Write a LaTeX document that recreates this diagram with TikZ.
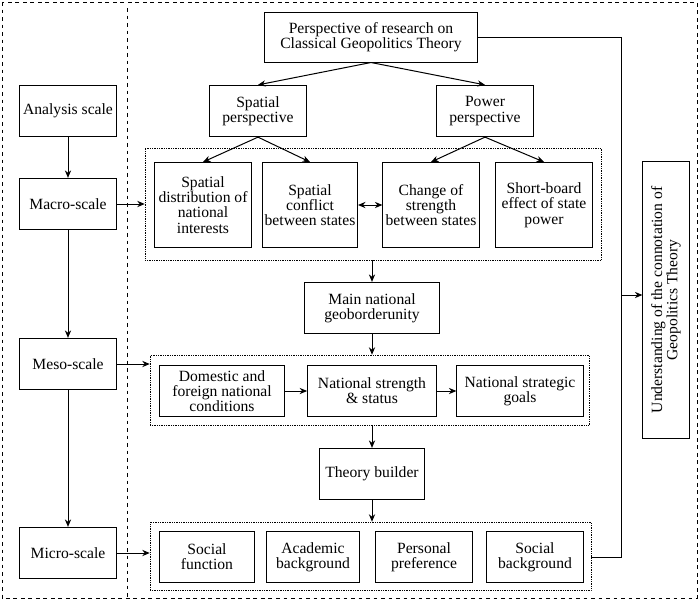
\documentclass[tikz,border=0pt]{standalone}
\usepackage{fontspec}
\setmainfont{Liberation Serif}
\usetikzlibrary{arrows.meta,fit}

\tikzset{
  box/.style={draw, thick, align=center, inner sep=0pt, font=\fontsize{12.5}{12.2}\selectfont},
  grp/.style={draw, densely dotted, inner sep=0pt},
  arr/.style={-{Stealth[length=6pt,width=5pt]}, thick}
}

\begin{document}
\begin{tikzpicture}[x=0.8pt, y=-0.8pt]
        \useasboundingbox (0,0) rectangle (700,601);
        \draw[dashed, thick] (2,2) rectangle (697,598);
        \draw[dashed, thick] (127,8) -- (127,598);

        % left column
        \node[box, minimum width=77pt, minimum height=41pt](as) at (68,111) {Analysis scale};
        \node[box, minimum width=77pt, minimum height=41pt](ma) at (68,204) {Macro-scale};
        \node[box, minimum width=77pt, minimum height=41pt](me) at (68,364) {Meso-scale};
        \node[box, minimum width=77pt, minimum height=41pt](mi) at (68,553) {Micro-scale};

        % top
        \node[box, minimum width=170pt, minimum height=40pt](per) at (371,37) {Perspective of research on\\Classical Geopolitics Theory};
        \node[box, minimum width=77pt, minimum height=41pt](sp) at (258,111) {Spatial\\perspective};
        \node[box, minimum width=77pt, minimum height=41pt](pp) at (485,111) {Power\\perspective};

        \node[box, minimum width=77pt, minimum height=68pt](s1) at (203,205) {Spatial\\distribution of\\national\\interests};
        \node[box, minimum width=76pt, minimum height=68pt](s2) at (310,205) {Spatial\\conflict\\between states};
        \node[box, minimum width=77pt, minimum height=68pt](s3) at (431,205) {Change of\\strength\\between states};
        \node[box, minimum width=78pt, minimum height=68pt](s4) at (544,205) {Short-board\\effect of state\\power};
        \coordinate (g1a) at (145,148);
        \coordinate (g1b) at (601,260);
        \node[grp, fit=(g1a)(g1b)](g1) {};

        \node[box, minimum width=108pt, minimum height=41pt](mn) at (372,308) {Main national\\geoborderunity};

        \node[box, minimum width=100pt, minimum height=41pt](d1) at (222,391) {Domestic and\\foreign national\\conditions};
        \node[box, minimum width=103pt, minimum height=41pt](d2) at (372,391) {National strength\\\& status};
        \node[box, minimum width=101pt, minimum height=41pt](d3) at (520,391) {National strategic\\goals};
        \coordinate (g2a) at (150,355);
        \coordinate (g2b) at (589,425);
        \node[grp, fit=(g2a)(g2b)](g2) {};

        \node[box, minimum width=84pt, minimum height=41pt](tb) at (372,474) {Theory builder};

        \node[box, minimum width=76pt, minimum height=41pt](m1) at (207,557) {Social\\function};
        \node[box, minimum width=74pt, minimum height=41pt](m2) at (313,557) {Academic\\background};
        \node[box, minimum width=77pt, minimum height=41pt](m3) at (424,557) {Personal\\preference};
        \node[box, minimum width=77pt, minimum height=41pt](m4) at (535,557) {Social\\background};
        \coordinate (g3a) at (150,522);
        \coordinate (g3b) at (591,590);
        \node[grp, fit=(g3a)(g3b)](g3) {};

        % right
        \node[box, minimum width=221pt, minimum height=37pt, rotate=90](un) at (666,300) {Understanding of the connotation of\\Geopolitics Theory};
        \coordinate (c1) at (621,37);
        \coordinate (c2) at (621,557);
        \coordinate (c3) at (621,295);

        % arrows
        \draw[arr] (as) -- (ma);
        \draw[arr] (ma) -- (me);
        \draw[arr] (me) -- (mi);
        \draw[arr] (ma.east) -- (ma.east -| g1.west);
        \draw[arr] (me.east) -- (me.east -| g2.west);
        \draw[arr] (mi.east) -- (mi.east -| g3.west);

        \draw[arr] (per.south) -- (sp.north);
        \draw[arr] (per.south) -- (pp.north);
        \draw[arr] (sp.south) -- (s1.north);
        \draw[arr] (sp.south) -- (s2.north);
        \draw[arr] (pp.south) -- (s3.north);
        \draw[arr] (pp.south) -- (s4.north);
        \draw[arr, {Stealth[length=6pt,width=5pt]}-{Stealth[length=6pt,width=5pt]}] (s2) -- (s3);

        \draw[arr] (g1.south -| mn) -- (mn.north);
        \draw[arr] (mn.south) -- (g2.north -| mn);
        \draw[arr] (d1) -- (d2);
        \draw[arr] (d2) -- (d3);
        \draw[arr] (g2.south -| tb) -- (tb.north);
        \draw[arr] (tb.south) -- (g3.north -| tb);

        \draw[thick] (per.east) -- (c1) -- (c2) -- (g3.east |- c2);
        \draw[arr] (c3) -- (c3 -| un.north);
\end{tikzpicture}
\end{document}
